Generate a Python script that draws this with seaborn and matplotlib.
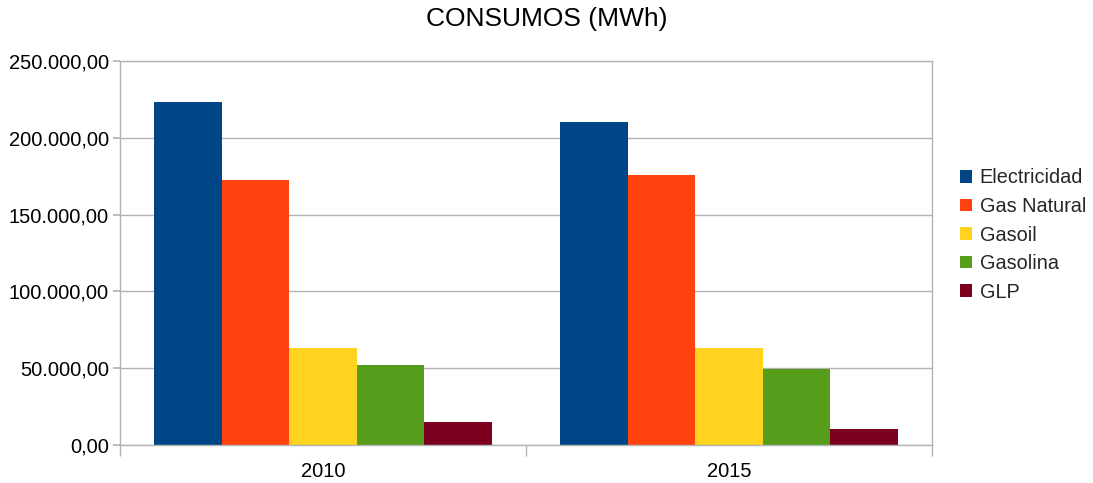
import pandas as pd
import matplotlib.pyplot as plt
import seaborn as sns
from matplotlib.ticker import FuncFormatter, MultipleLocator, FixedLocator

# Datos del gráfico
anios = ['2010', '2015']
fuentes = ['Electricidad', 'Gas Natural', 'Gasoil', 'Gasolina', 'GLP']
electricidad = [223000, 210000]
gas_natural = [172500, 176000]
gasoil = [63000, 63000]
gasolina = [52000, 49500]
glp = [15000, 10500]

colores = ['#004586', '#ff420e', '#ffd320', '#579d1c', '#7e0021']

series = [electricidad, gas_natural, gasoil, gasolina, glp]
df = pd.DataFrame([
    {'anio': a, 'fuente': f, 'valor': v[i]}
    for f, v in zip(fuentes, series)
    for i, a in enumerate(anios)
])

sns.set_theme(style='white')
plt.rcParams['font.family'] = ['Liberation Sans', 'DejaVu Sans']

fig = plt.figure(figsize=(10.93, 4.83), dpi=100)
ax = fig.add_axes([0.1098, 0.0787, 0.7429, 0.795])

sns.barplot(data=df, x='anio', y='valor', hue='fuente', order=anios,
            hue_order=fuentes, palette=colores, width=0.833,
            saturation=1, ax=ax, legend=True, linewidth=0)

ax.set_xlim(-0.5, 1.5)
ax.set_ylim(0, 250000)
ax.yaxis.set_major_locator(MultipleLocator(50000))
ax.yaxis.set_major_formatter(FuncFormatter(
    lambda v, p: f'{v:,.2f}'.replace(',', 'X').replace('.', ',').replace('X', '.')))
ax.grid(axis='y', color='#b3b3b3', linewidth=1)
ax.set_axisbelow(True)

for s in ['left', 'bottom', 'right', 'top']:
    ax.spines[s].set_color('#b3b3b3')
    ax.spines[s].set_linewidth(1)

ax.tick_params(axis='y', which='major', left=True, length=5, color='#b3b3b3',
               labelsize=14.5, labelcolor='#000000', pad=3)
ax.xaxis.set_minor_locator(FixedLocator([-0.5, 0.5, 1.5]))
ax.tick_params(axis='x', which='minor', bottom=True, length=8, color='#b3b3b3')
ax.tick_params(axis='x', which='major', bottom=False, length=0, pad=12,
               labelsize=14.5, labelcolor='#000000')

ax.set_xlabel('')
ax.set_ylabel('')
fig.suptitle('CONSUMOS (MWh)', fontsize=19, x=0.5, y=0.985, va='top',
             color='#000000')

leg = ax.legend(loc='center left', bbox_to_anchor=(960 / 1093, 1 - 235 / 483),
                bbox_transform=fig.transFigure, frameon=False,
                fontsize=14.3, handlelength=0.6, handleheight=0.6,
                handletextpad=0.4, labelspacing=0.48,
                borderpad=0, borderaxespad=0)

plt.savefig('out.png', dpi=100)
plt.close()
